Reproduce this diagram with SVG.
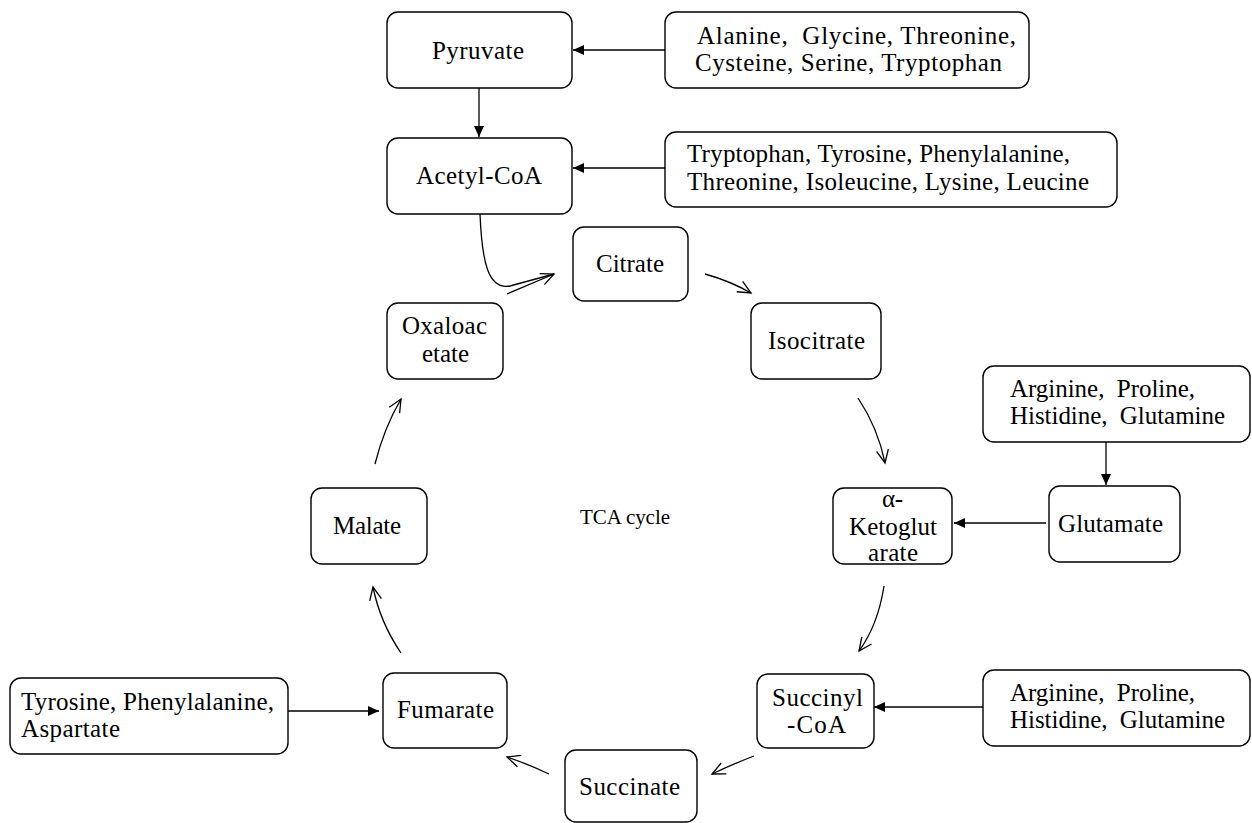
<svg xmlns="http://www.w3.org/2000/svg" width="1252" height="823" viewBox="0 0 1252 823">
<style>
.box{fill:#fff;stroke:#000;stroke-width:1.4}
.t{font-family:"Liberation Serif","Times New Roman",serif;font-size:25px;fill:#000}
.small{font-size:21px}
.ln{fill:none;stroke:#000;stroke-width:1.3}
</style>
<defs>
<marker id="fa" markerUnits="userSpaceOnUse" markerWidth="14" markerHeight="12" viewBox="-12 -6 14 12" refX="0" refY="0" orient="auto">
<path d="M0,0 L-11,-5 L-11,5 z" fill="#000"/>
</marker>
<marker id="oa" markerUnits="userSpaceOnUse" markerWidth="20" markerHeight="16" viewBox="-16 -8 18 16" refX="0" refY="0" orient="auto">
<path d="M-13,-6 L0,0 L-13,6" fill="none" stroke="#000" stroke-width="1.3"/>
</marker>
</defs>
<rect width="1252" height="823" fill="#fff"/>
<g id="connectors">
<path class="ln" d="M665,50 H573" marker-end="url(#fa)"/>
<path class="ln" d="M479,88 V137" marker-end="url(#fa)"/>
<path class="ln" d="M665,168 H573" marker-end="url(#fa)"/>
<path class="ln" d="M1106,442 V485" marker-end="url(#fa)"/>
<path class="ln" d="M1046,523 H954" marker-end="url(#fa)"/>
<path class="ln" d="M983,707 H874" marker-end="url(#fa)"/>
<path class="ln" d="M288,711 H379" marker-end="url(#fa)"/>
<path class="ln" d="M480,214 C482,262 488,290 510,286 L554,274"/>
<path class="ln" d="M507,294 L554,274" marker-end="url(#oa)"/>
<path class="ln" d="M705,274 Q730,281 751,293" marker-end="url(#oa)"/>
<path class="ln" d="M858,398 Q878,428 885,463" marker-end="url(#oa)"/>
<path class="ln" d="M884,586 Q878,625 859,651" marker-end="url(#oa)"/>
<path class="ln" d="M754,756 Q733,764 712,774" marker-end="url(#oa)"/>
<path class="ln" d="M549,774 Q528,764 507,757" marker-end="url(#oa)"/>
<path class="ln" d="M401,653 Q380,622 373,587" marker-end="url(#oa)"/>
<path class="ln" d="M375,464 Q384,428 401,399" marker-end="url(#oa)"/>
</g>
<g id="pyruvate"><rect class="box" x="387" y="12" width="185" height="76" rx="11"/><text class="t" x="432" y="59" textLength="92" lengthAdjust="spacing">Pyruvate</text></g>
<g id="acetylcoa"><rect class="box" x="387" y="138" width="185" height="76" rx="11"/><text class="t" x="416" y="184" textLength="126" lengthAdjust="spacing">Acetyl-CoA</text></g>
<g id="src1"><rect class="box" x="665" y="12" width="364" height="76" rx="11"/><text class="t" x="697" y="44" textLength="319" lengthAdjust="spacing" xml:space="preserve">Alanine,  Glycine, Threonine,</text><text class="t" x="695" y="71" textLength="307" lengthAdjust="spacing">Cysteine, Serine, Tryptophan</text></g>
<g id="src2"><rect class="box" x="665" y="132" width="452" height="75" rx="11"/><text class="t" x="687" y="162" textLength="383" lengthAdjust="spacing">Tryptophan, Tyrosine, Phenylalanine,</text><text class="t" x="687" y="190" textLength="402" lengthAdjust="spacing">Threonine, Isoleucine, Lysine, Leucine</text></g>
<g id="citrate"><rect class="box" x="573" y="227" width="115" height="74" rx="11"/><text class="t" x="596" y="272" textLength="68" lengthAdjust="spacing">Citrate</text></g>
<g id="isocitrate"><rect class="box" x="751" y="303" width="130" height="76" rx="11"/><text class="t" x="768" y="349" textLength="97" lengthAdjust="spacing">Isocitrate</text></g>
<g id="oxaloacetate"><rect class="box" x="387" y="303" width="116" height="76" rx="11"/><text class="t" x="402" y="334" textLength="85" lengthAdjust="spacing">Oxaloac</text><text class="t" x="422" y="362" textLength="47" lengthAdjust="spacing">etate</text></g>
<g id="src3"><rect class="box" x="983" y="366" width="267" height="76" rx="11"/><text class="t" x="1010" y="397" textLength="185" lengthAdjust="spacing" xml:space="preserve">Arginine,  Proline,</text><text class="t" x="1010" y="424" textLength="215" lengthAdjust="spacing" xml:space="preserve">Histidine,  Glutamine</text></g>
<g id="glutamate"><rect class="box" x="1049" y="486" width="131" height="76" rx="11"/><text class="t" x="1058" y="532" textLength="105" lengthAdjust="spacing">Glutamate</text></g>
<g id="aketoglutarate"><rect class="box" x="833" y="488" width="119" height="76" rx="11"/><text class="t" x="882" y="507" textLength="21" lengthAdjust="spacing">α-</text><text class="t" x="849" y="535" textLength="88" lengthAdjust="spacing">Ketoglut</text><text class="t" x="868" y="561" textLength="50" lengthAdjust="spacing">arate</text></g>
<g id="malate"><rect class="box" x="311" y="488" width="116" height="76" rx="11"/><text class="t" x="333" y="534" textLength="68" lengthAdjust="spacing">Malate</text></g>
<g id="tca"><text class="t small" x="580" y="524" textLength="90" lengthAdjust="spacing">TCA cycle</text></g>
<g id="src4"><rect class="box" x="10" y="678" width="278" height="76" rx="11"/><text class="t" x="21" y="710" textLength="253" lengthAdjust="spacing">Tyrosine, Phenylalanine,</text><text class="t" x="21" y="737" textLength="99" lengthAdjust="spacing">Aspartate</text></g>
<g id="fumarate"><rect class="box" x="383" y="673" width="124" height="75" rx="11"/><text class="t" x="397" y="718" textLength="97" lengthAdjust="spacing">Fumarate</text></g>
<g id="succinylcoa"><rect class="box" x="757" y="674" width="117" height="74" rx="11"/><text class="t" x="772" y="706" textLength="91" lengthAdjust="spacing">Succinyl</text><text class="t" x="787" y="733" textLength="59" lengthAdjust="spacing">-CoA</text></g>
<g id="src5"><rect class="box" x="983" y="670" width="267" height="76" rx="11"/><text class="t" x="1010" y="701" textLength="185" lengthAdjust="spacing" xml:space="preserve">Arginine,  Proline,</text><text class="t" x="1010" y="728" textLength="215" lengthAdjust="spacing" xml:space="preserve">Histidine,  Glutamine</text></g>
<g id="succinate"><rect class="box" x="565" y="750" width="132" height="72" rx="11"/><text class="t" x="579" y="795" textLength="101" lengthAdjust="spacing">Succinate</text></g>
</svg>
